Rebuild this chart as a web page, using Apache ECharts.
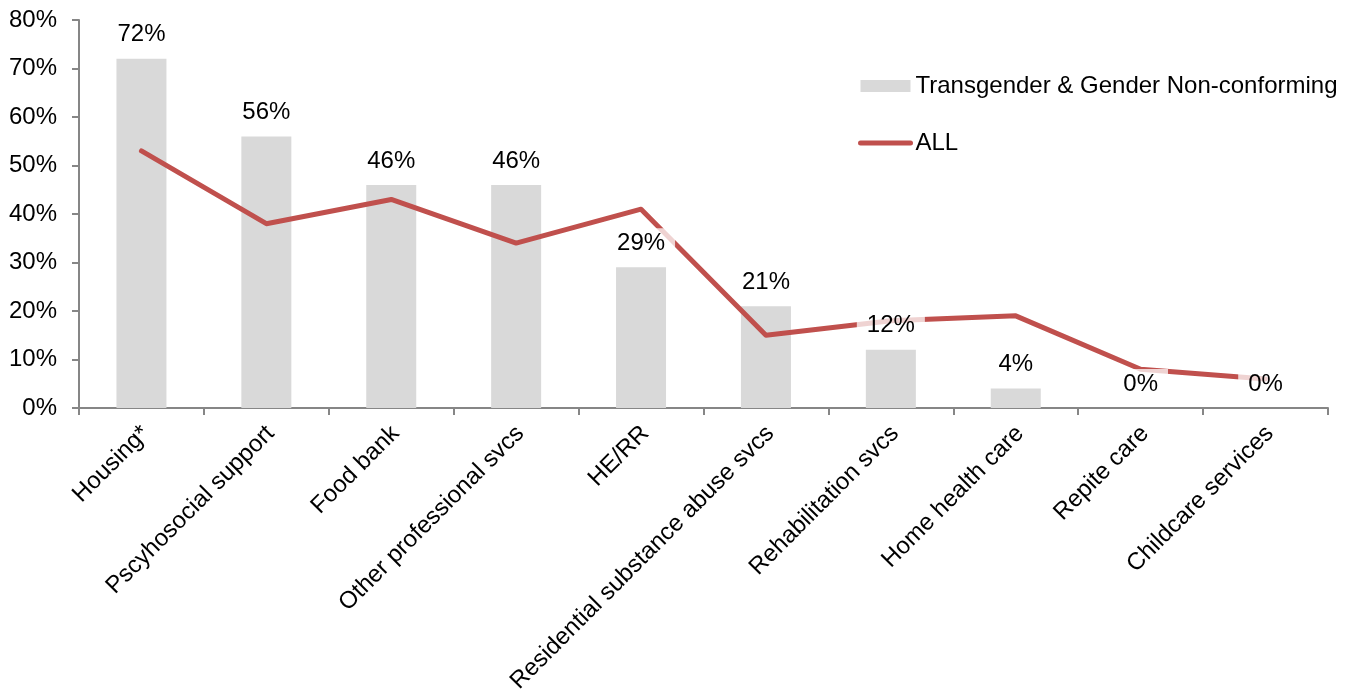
<!DOCTYPE html>
<html>
<head>
<meta charset="utf-8">
<script src="https://cdn.jsdelivr.net/npm/echarts@6/dist/echarts.min.js"></script>
<style>
html,body{margin:0;padding:0;background:#fff;}
#chart{width:1351px;height:693px;}
</style>
</head>
<body>
<div id="chart"></div>
<script>
const categories = ['Housing*', 'Pscyhosocial support', 'Food bank', 'Other professional svcs', 'HE/RR', 'Residential substance abuse svcs', 'Rehabilitation svcs', 'Home health care', 'Repite care', 'Childcare services'];
const tgncValues = [72, 56, 46, 46, 29, 21, 12, 4, 0, 0];
const allValues = [53, 38, 43, 34, 41, 15, 18, 19, 8, 6];
const yTicks = [0, 10, 20, 30, 40, 50, 60, 70, 80];

const FONT = '"Liberation Sans", Arial, sans-serif';
const chart = echarts.init(document.getElementById('chart'), null, {renderer: 'canvas'});
chart.setOption({
  animation: false,
  textStyle: {fontFamily: FONT, color: '#000'},
  grid: {left: 79, right: 23, top: 20, bottom: 285, containLabel: false, outerBoundsMode: 'none'},
  legend: {
    orient: 'vertical',
    left: 858,
    top: 74,
    padding: 0,
    itemWidth: 50,
    itemHeight: 12,
    itemGap: 33,
    data: [
      {name: 'Transgender & Gender Non-conforming', icon: 'rect'},
      {name: 'ALL', itemStyle: {opacity: 0}, lineStyle: {width: 5, color: '#C0504D', cap: 'round'}}
    ],
    textStyle: {fontFamily: FONT, fontSize: 24, color: '#000'}
  },
  xAxis: {
    type: 'category',
    data: categories,
    axisLine: {show: true, lineStyle: {color: '#868686', width: 2}},
    axisTick: {show: true, length: 7, lineStyle: {color: '#868686', width: 2}, alignWithLabel: false},
    axisLabel: {
      rotate: 45,
      interval: 0,
      margin: 26,
      padding: [0, -6, 0, 0],
      fontFamily: FONT,
      fontSize: 24,
      color: '#000'
    },
    splitLine: {show: false}
  },
  yAxis: {
    type: 'value',
    min: yTicks[0],
    max: yTicks[yTicks.length - 1],
    interval: 10,
    axisLine: {show: true, lineStyle: {color: '#868686', width: 2}},
    axisTick: {show: true, length: 7, lineStyle: {color: '#868686', width: 2}},
    axisLabel: {formatter: '{value}%', margin: 22, fontFamily: FONT, fontSize: 24, color: '#000'},
    splitLine: {show: false}
  },
  series: [
    {
      name: 'Transgender & Gender Non-conforming',
      type: 'bar',
      data: tgncValues,
      barWidth: 50,
      z: 1,
      itemStyle: {color: '#D9D9D9'}
    },
    {
      name: 'ALL',
      type: 'line',
      data: allValues,
      z: 2,
      symbol: 'none',
      showSymbol: false,
      lineStyle: {color: '#C0504D', width: 5, cap: 'round', join: 'round'},
      itemStyle: {color: '#C0504D'}
    },
    {
      name: 'labels',
      type: 'bar',
      data: tgncValues,
      barWidth: 50,
      barGap: '-100%',
      z: 3,
      silent: true,
      itemStyle: {color: 'rgba(0,0,0,0)'},
      label: {
        show: true,
        position: 'top',
        distance: 9,
        formatter: '{c}%',
        fontFamily: FONT,
        fontSize: 24,
        color: '#000',
        backgroundColor: 'rgba(255,255,255,0.75)',
        padding: [3, 10]
      }
    }
  ]
});
</script>
</body>
</html>
